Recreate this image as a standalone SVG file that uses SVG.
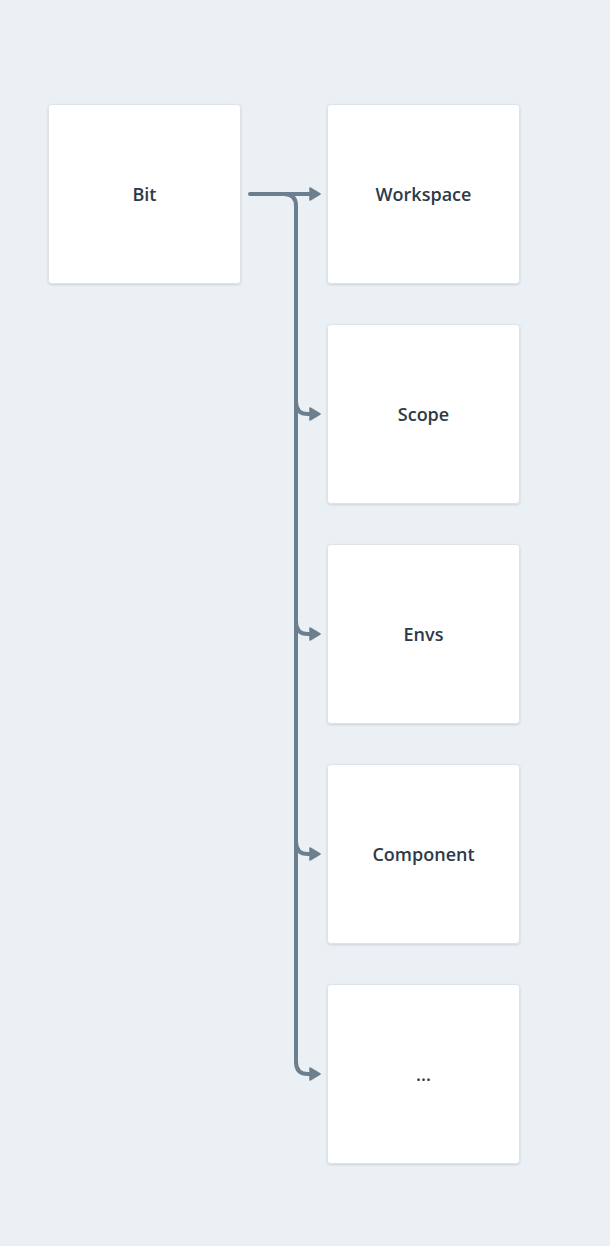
<svg xmlns="http://www.w3.org/2000/svg" width="610" height="1246" viewBox="0 0 610 1246">
<defs>
<style>
.node rect{fill:#ffffff;stroke:#dde2e7;stroke-width:1}
.node text{font-family:"Open Sans","Lato",sans-serif;font-weight:600;font-size:18px;fill:#2d3a48;text-anchor:middle;dominant-baseline:central}
.conn{fill:none;stroke:#6b7f8f;stroke-width:4;stroke-linecap:round}
.head{fill:#6b7f8f;stroke:#6b7f8f;stroke-width:1.5;stroke-linejoin:round}
</style>
<filter id="sh" x="-10%" y="-10%" width="120%" height="120%">
<feDropShadow dx="0" dy="1" stdDeviation="0.8" flood-color="#8a97a5" flood-opacity="0.35"/>
</filter>
<path id="ah" class="head" d="M-9,-6 L1,0 L-9,6 Z"/>
</defs>
<rect width="610" height="1246" fill="#ebf0f4"/>
<g id="connectors">
<path class="conn" d="M250,194 H312"/>
<path class="conn" d="M284,194 Q296,194 296,206 V1062 Q296,1074 308,1074 H312"/>
<path class="conn" d="M296,402 Q296,414 308,414 H312"/>
<path class="conn" d="M296,622 Q296,634 308,634 H312"/>
<path class="conn" d="M296,842 Q296,854 308,854 H312"/>
<use href="#ah" x="319" y="194"/>
<use href="#ah" x="319" y="414"/>
<use href="#ah" x="319" y="634"/>
<use href="#ah" x="319" y="854"/>
<use href="#ah" x="319" y="1074"/>
</g>
<g id="bit" class="node"><rect x="48.5" y="104.5" width="192" height="179" rx="3" filter="url(#sh)"/><text x="144.5" y="194">Bit</text></g>
<g id="workspace" class="node"><rect x="327.5" y="104.5" width="192" height="179" rx="3" filter="url(#sh)"/><text x="423.5" y="194">Workspace</text></g>
<g id="scope" class="node"><rect x="327.5" y="324.5" width="192" height="179" rx="3" filter="url(#sh)"/><text x="423.5" y="414">Scope</text></g>
<g id="envs" class="node"><rect x="327.5" y="544.5" width="192" height="179" rx="3" filter="url(#sh)"/><text x="423.5" y="634">Envs</text></g>
<g id="component" class="node"><rect x="327.5" y="764.5" width="192" height="179" rx="3" filter="url(#sh)"/><text x="423.5" y="854">Component</text></g>
<g id="more" class="node"><rect x="327.5" y="984.5" width="192" height="179" rx="3" filter="url(#sh)"/><text x="423.5" y="1074">...</text></g>
</svg>
